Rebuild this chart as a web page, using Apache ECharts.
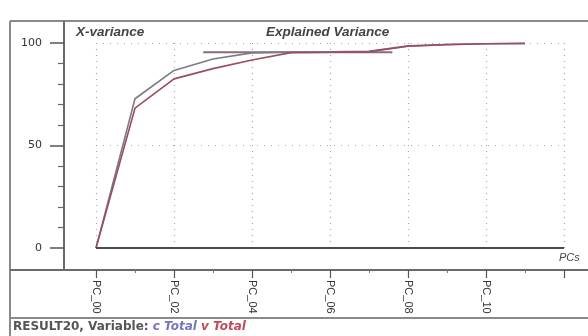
<!DOCTYPE html>
<html>
<head>
<meta charset="utf-8">
<title>Explained Variance</title>
<script src="https://cdn.jsdelivr.net/npm/echarts@6/dist/echarts.min.js"></script>
<style>
  html, body { margin: 0; padding: 0; background: #ffffff; }
  #chart { width: 588px; height: 336px; }
</style>
</head>
<body>
<div id="chart"></div>
<script>
// Principal components (x positions) and cumulative explained variance (%)
const pcs = [0, 1, 2, 3, 4, 5, 6, 7, 8, 9, 10, 11];
const cTotal = [0, 72.8, 86.6, 92.2, 95.2, 95.6, 95.7, 95.9, 98.6, 99.3, 99.6, 99.8];
const vTotal = [0, 68.2, 82.5, 87.5, 91.7, 95.3, 95.5, 95.8, 98.4, 99.2, 99.6, 99.8];
// Flat reference segment near the top of the curves
const plateauX = [2.75, 7.6];
const plateauY = [95.5, 95.5];
// Labelled ticks on the PC axis (every second component)
const tickLabels = ['PC_00', 'PC_02', 'PC_04', 'PC_06', 'PC_08', 'PC_10'];
const yTicks = [0, 50, 100];

const FONT = "'Liberation Sans', Arial, sans-serif";
const WIDE = "'DejaVu Sans', sans-serif";
const FRAME = '#8a8a8a';
const AXIS = '#6a6a6a';

const chart = echarts.init(document.getElementById('chart'), null, { renderer: 'canvas' });

const pairs = (xs, ys) => xs.map((x, i) => [x, ys[i]]);

chart.setOption({
  backgroundColor: '#ffffff',
  animation: false,
  grid: { left: 96, right: 24, top: 43, bottom: 88, containLabel: false },
  xAxis: {
    type: 'value',
    min: 0,
    max: 12,
    interval: 2,
    offset: 22,
    axisLine: { show: true, onZero: false, lineStyle: { color: AXIS, width: 2 } },
    axisTick: { show: true, length: 8, lineStyle: { color: '#555', width: 1.2 } },
    minorTick: { show: true, splitNumber: 2, length: 3, lineStyle: { color: '#777', width: 1 } },
    axisLabel: {
      rotate: -90,
      margin: 10,
      fontFamily: FONT,
      fontSize: 11,
      color: '#333',
      formatter: v => tickLabels[Math.round(v / 2)] || ''
    },
    splitLine: { show: true, lineStyle: { color: '#a8a8a8', type: [1, 5], width: 1.2 } }
  },
  yAxis: {
    type: 'value',
    min: yTicks[0],
    max: yTicks[yTicks.length - 1],
    interval: 50,
    offset: 32,
    axisLine: { show: true, onZero: false, lineStyle: { color: AXIS, width: 2 } },
    axisTick: { show: true, length: 14, lineStyle: { color: '#555', width: 1.5 } },
    minorTick: { show: true, splitNumber: 5, length: 6, lineStyle: { color: '#666', width: 1.2 } },
    axisLabel: { margin: 22, fontFamily: WIDE, fontSize: 11, color: '#333' },
    splitLine: { show: true, lineStyle: { color: '#a8a8a8', type: [1, 6], width: 1.2 } }
  },
  series: [
    {
      name: 'c Total',
      type: 'line',
      data: pairs(pcs, cTotal),
      symbol: 'none',
      lineStyle: { color: '#7a7b88', width: 1.6 },
      z: 3,
      markLine: {
        silent: true,
        symbol: 'none',
        label: { show: false },
        lineStyle: { color: '#4a4a4a', width: 2, type: 'solid' },
        data: [{ yAxis: 0 }]
      }
    },
    {
      name: 'v Total',
      type: 'line',
      data: pairs(pcs, vTotal),
      symbol: 'none',
      lineStyle: { color: '#9c4c5e', width: 1.6 },
      z: 4
    },
    {
      name: 'plateau',
      type: 'line',
      data: pairs(plateauX, plateauY),
      symbol: 'none',
      lineStyle: { color: '#8c6a74', width: 1.8 },
      z: 2
    }
  ],
  graphic: [
    // panel frame
    { type: 'line', shape: { x1: 10, y1: 21, x2: 588, y2: 21 }, style: { stroke: FRAME, lineWidth: 2 } },
    { type: 'line', shape: { x1: 10, y1: 21, x2: 10, y2: 336 }, style: { stroke: FRAME, lineWidth: 2 } },
    { type: 'line', shape: { x1: 64, y1: 21, x2: 64, y2: 270 }, style: { stroke: AXIS, lineWidth: 2 } },
    { type: 'line', shape: { x1: 10, y1: 270, x2: 588, y2: 270 }, style: { stroke: AXIS, lineWidth: 2 } },
    { type: 'line', shape: { x1: 10, y1: 318, x2: 588, y2: 318 }, style: { stroke: FRAME, lineWidth: 2 } },
    // headings inside the plot
    { type: 'text', left: 76, top: 25, style: { text: 'X-variance', font: "italic bold 13.5px " + FONT, fill: '#444' } },
    { type: 'text', left: 266, top: 25, style: { text: 'Explained Variance', font: "italic bold 13.5px " + FONT, fill: '#444' } },
    { type: 'text', left: 559, top: 252, style: { text: 'PCs', font: "italic 11px " + FONT, fill: '#444' } },
    // footer with variable names
    {
      type: 'text', left: 13, top: 321,
      style: {
        text: '{a|RESULT20, Variable: }{c|c Total }{v|v Total}',
        rich: {
          a: { font: "bold 12px " + WIDE, fill: '#555' },
          c: { font: "italic bold 12px " + WIDE, fill: '#7474c0' },
          v: { font: "italic bold 12px " + WIDE, fill: '#c04a5a' }
        }
      }
    }
  ]
});
</script>
</body>
</html>
